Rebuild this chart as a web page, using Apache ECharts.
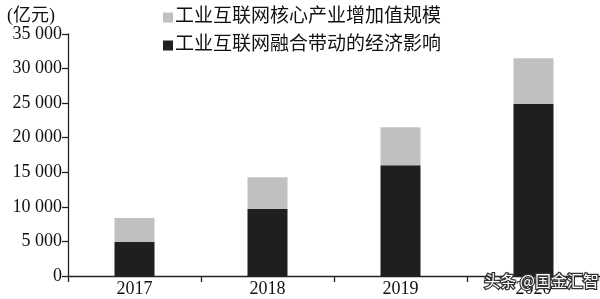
<!DOCTYPE html>
<html>
<head>
<meta charset="utf-8">
<script src="https://cdn.jsdelivr.net/npm/echarts@6/dist/echarts.min.js"></script>
<style>html,body{margin:0;padding:0;background:#fff;}#c{width:600px;height:299px;}</style>
</head>
<body>
<div id="c"></div>
<script>
var categories = ['2017', '2018', '2019', '2020'];
var coreValues = [3500, 4600, 5500, 6600];
var fusionValues = [4900, 9700, 16000, 24900];
var seriesNames = ['工业互联网核心产业增加值规模', '工业互联网融合带动的经济影响'];
var unitLabel = '(亿元)';
var watermark = '头条 @国金汇智';

var FONT = "'Liberation Serif', 'Noto Sans CJK SC', serif";
var chart = echarts.init(document.getElementById('c'));
chart.setOption({
  animation: false,
  backgroundColor: '#ffffff',
  title: {
    text: unitLabel, left: 2, top: 2,
    textStyle: { fontFamily: FONT, fontSize: 18, fontWeight: 'normal', color: '#111' }
  },
  legend: {
    orient: 'vertical', left: 158, top: 3,
    itemWidth: 10, itemHeight: 10, itemGap: 9,
    icon: 'rect',
    data: [seriesNames[0], seriesNames[1]],
    textStyle: { fontFamily: FONT, fontSize: 19, color: '#111', padding: [0, 0, 0, -3] }
  },
  grid: { left: 68, right: 0, top: 34, bottom: 23 },
  xAxis: {
    type: 'category', data: categories,
    axisLine: { lineStyle: { color: '#222', width: 1.3 } },
    axisTick: { show: true, length: 6, lineStyle: { color: '#222', width: 1.3 } },
    axisLabel: { fontFamily: FONT, fontSize: 18, color: '#111', margin: 4 }
  },
  yAxis: {
    type: 'value', min: 0, max: 35000, interval: 5000,
    axisLine: { show: true, lineStyle: { color: '#222', width: 1.3 } },
    axisTick: { show: true, length: 6, lineStyle: { color: '#222', width: 1.3 } },
    splitLine: { show: false },
    axisLabel: {
      fontFamily: FONT, fontSize: 18, color: '#111', margin: 6,
      formatter: function (v) { return String(v).replace(/\B(?=(\d{3})+(?!\d))/g, ' '); }
    }
  },
  series: [
    { name: seriesNames[1], type: 'bar', stack: 't', data: fusionValues, barWidth: 40,
      itemStyle: { color: '#1f1f1f' } },
    { name: seriesNames[0], type: 'bar', stack: 't', data: coreValues, barWidth: 40,
      itemStyle: { color: '#c0c0c0' } }
  ],
  graphic: [{
    type: 'text', left: 483, top: 272, z: 100,
    style: { text: watermark, fontSize: 16, fontFamily: "'Noto Sans CJK SC', sans-serif",
      fill: '#ffffff', stroke: '#333333', lineWidth: 2.5 }
  }]
});
</script>
</body>
</html>
